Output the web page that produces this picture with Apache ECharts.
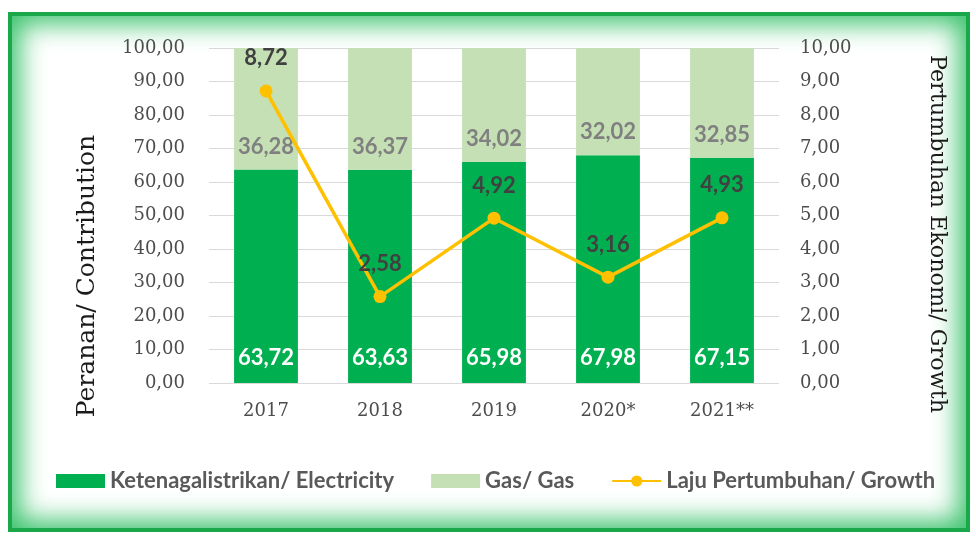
<!DOCTYPE html>
<html>
<head>
<meta charset="utf-8">
<script src="https://cdn.jsdelivr.net/npm/echarts@6/dist/echarts.min.js"></script>
<style>
  html, body { margin: 0; padding: 0; background: #fff; }
  #frame {
    position: absolute; left: 8px; top: 12px; width: 962px; height: 520px;
    background: #fff;
    box-shadow: inset 0 0 0 4px #1aa84a, inset 0 0 26px 12px #3fc46f;
  }
  #charts { position: absolute; left: 0; top: 0; width: 976px; height: 538px; }
</style>
</head>
<body>
<div id="frame"></div>
<div id="charts"></div>
<script>
const years = ["2017", "2018", "2019", "2020*", "2021**"];
const electricity = [63.72, 63.63, 65.98, 67.98, 67.15];
const gas = [36.28, 36.37, 34.02, 32.02, 32.85];
const growth = [8.72, 2.58, 4.92, 3.16, 4.93];

const comma = function(v) {
  return Number(v).toFixed(2).replace(".", ",");
};

const chart = echarts.init(document.getElementById("charts"));
const serif = "DejaVu Serif";
const sans = "Lato";

const option = {
  animation: false,
  grid: { left: 209, right: 197, top: 48, bottom: 155 },
  legend: {
    left: 51,
    top: 465,
    itemWidth: 49,
    itemHeight: 14,
    itemGap: 37,
    textStyle: { fontFamily: sans, fontWeight: "bold", fontSize: 22, color: "#595959" },
    data: [
      { name: "Ketenagalistrikan/ Electricity", icon: "rect" },
      { name: "Gas/ Gas", icon: "rect" },
      { name: "Laju Pertumbuhan/ Growth" }
    ]
  },
  graphic: [
    {
      type: "text",
      x: 87,
      y: 276,
      rotation: Math.PI / 2,
      style: {
        text: "Peranan/ Contribution",
        fontFamily: serif,
        fontSize: 25,
        fill: "#1a1a1a",
        align: "center",
        verticalAlign: "middle"
      }
    },
    {
      type: "text",
      x: 937,
      y: 234,
      rotation: -Math.PI / 2,
      style: {
        text: "Pertumbuhan Ekonomi/ Growth",
        fontFamily: serif,
        fontSize: 22.3,
        fill: "#1a1a1a",
        align: "center",
        verticalAlign: "middle"
      }
    }
  ],
  xAxis: {
    type: "category",
    data: years,
    axisLine: { show: false },
    axisTick: { show: false },
    axisLabel: { fontFamily: serif, fontSize: 18, color: "#4d4d4d", margin: 19 }
  },
  yAxis: [
    {
      type: "value",
      min: 0,
      max: 100,
      interval: 10,
      axisLine: { show: false },
      axisTick: { show: false },
      splitLine: { lineStyle: { color: "#d9d9d9", width: 1 } },
      axisLabel: { fontFamily: serif, fontSize: 18, color: "#4d4d4d", margin: 24, formatter: comma }
    },
    {
      type: "value",
      min: 0,
      max: 10,
      interval: 1,
      axisLine: { show: false },
      axisTick: { show: false },
      splitLine: { show: false },
      axisLabel: { fontFamily: serif, fontSize: 18, color: "#4d4d4d", margin: 21, formatter: comma }
    }
  ],
  series: [
    {
      name: "Ketenagalistrikan/ Electricity",
      type: "bar",
      stack: "share",
      barWidth: "56%",
      data: electricity,
      itemStyle: { color: "#00b050" },
      label: {
        show: true,
        position: "insideBottom",
        distance: 14,
        fontFamily: sans,
        fontWeight: "bold",
        fontSize: 22,
        color: "#ffffff",
        formatter: function(p) { return comma(p.value); }
      }
    },
    {
      name: "Gas/ Gas",
      type: "bar",
      stack: "share",
      data: gas,
      itemStyle: { color: "#c5e0b4" },
      label: {
        show: true,
        position: "insideBottom",
        distance: 12,
        fontFamily: sans,
        fontWeight: "bold",
        fontSize: 22,
        color: "#808080",
        formatter: function(p) { return comma(p.value); }
      }
    },
    {
      name: "Laju Pertumbuhan/ Growth",
      type: "line",
      yAxisIndex: 1,
      data: growth,
      symbol: "circle",
      symbolSize: 13,
      lineStyle: { color: "#ffc000", width: 3.5 },
      itemStyle: { color: "#ffc000" },
      label: {
        show: true,
        position: "top",
        distance: 15,
        fontFamily: sans,
        fontWeight: "bold",
        fontSize: 22,
        color: "#404040",
        formatter: function(p) { return comma(p.value); }
      },
      z: 5
    }
  ]
};

chart.setOption(option);
window.onresize = function() {
  chart.resize();
};
</script>
</body>
</html>
